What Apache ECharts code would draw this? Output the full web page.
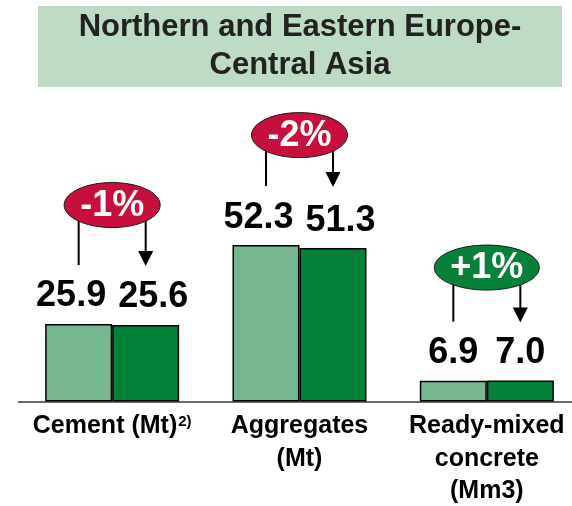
<!DOCTYPE html>
<html>
<head>
<meta charset="utf-8">
<script src="https://cdn.jsdelivr.net/npm/echarts@6/dist/echarts.min.js"></script>
<style>
  html, body { margin: 0; padding: 0; background: #ffffff; }
  #chart { width: 572px; height: 506px; }
</style>
</head>
<body>
<div id="chart"></div>
<script>
// Volumes by business line, prior year vs current year
const categories = ['Cement (Mt)', 'Aggregates\n(Mt)', 'Ready-mixed\nconcrete\n(Mm3)'];
const footnotes = ['2)', '', ''];
const priorValues = [25.9, 52.3, 6.9];
const currentValues = [25.6, 51.3, 7.0];
const changeLabels = ['-1%', '-2%', '+1%'];
const chartTitle = 'Northern and Eastern Europe-\nCentral Asia';

// Styling / layout
const FONT = '"Liberation Sans", Arial, Helvetica, sans-serif';
const BAR_W = 67;
const PRIOR_COLOR = '#76b78f';
const CURRENT_COLOR = '#06813a';
const DOWN_COLOR = '#c70f3d';
const UP_COLOR = '#07813a';
const badgeLift = [119, 110, 113];   // ellipse centre above the taller bar
const connectorGap = 59;             // connector end above the taller bar

const measureCtx = document.createElement('canvas').getContext('2d');
function textWidth(str, font) {
  measureCtx.font = font;
  return measureCtx.measureText(str).width;
}

const valueFont = 'bold 36px ' + FONT;
function labelShift(v) {
  const w = textWidth(v.toFixed(1), valueFont);
  return Math.max(0, (w + 12 - BAR_W) / 2);
}

function barData(values, side) {
  return values.map(v => ({
    value: v,
    label: { offset: [side * labelShift(v), 0] }
  }));
}

const valueLabel = {
  show: true,
  position: 'top',
  distance: 9.5,
  color: '#000',
  fontFamily: FONT,
  fontWeight: 'bold',
  fontSize: 36,
  formatter: p => p.value.toFixed(1)
};

const chart = echarts.init(document.getElementById('chart'), null, { renderer: 'canvas' });

chart.setOption({
  animation: false,
  backgroundColor: '#ffffff',
  graphic: [
    {
      type: 'rect',
      shape: { x: 38, y: 6, width: 524, height: 81 },
      style: { fill: '#bedcc5' },
      z: 0
    },
    {
      type: 'text',
      x: 300,
      y: 46.5,
      style: {
        text: chartTitle,
        fill: '#222222',
        font: 'bold 31px ' + FONT,
        align: 'center',
        verticalAlign: 'middle',
        textAlign: 'center',
        textVerticalAlign: 'middle',
        lineHeight: 38.5
      },
      z: 1
    }
  ],
  // the plot area runs a little past the right edge of the canvas
  grid: { left: 18.5, width: 562, top: 102.5, height: 299, outerBoundsMode: 'none', containLabel: false },
  xAxis: {
    type: 'category',
    data: categories,
    axisTick: { show: false },
    axisLine: { lineStyle: { color: '#3a3a3a', width: 1.5 } },
    axisLabel: {
      interval: 0,
      margin: 8.5,
      color: '#000',
      fontFamily: FONT,
      fontWeight: 'bold',
      fontSize: 25,
      lineHeight: 32.5,
      formatter: (value, idx) => footnotes[idx] ? value + '{sup|' + footnotes[idx] + '}' : value,
      rich: {
        sup: { fontFamily: FONT, fontWeight: 'bold', fontSize: 15, color: '#000', padding: [0, 0, 9, 1] }
      }
    }
  },
  yAxis: { type: 'value', min: 0, max: 100, show: false },
  series: [
    {
      name: 'Prior year',
      type: 'bar',
      barWidth: BAR_W,
      barGap: '0%',
      data: barData(priorValues, -1),
      itemStyle: { color: PRIOR_COLOR, borderColor: '#000', borderWidth: 1.5 },
      label: valueLabel
    },
    {
      name: 'Current year',
      type: 'bar',
      barWidth: BAR_W,
      barGap: '0%',
      data: barData(currentValues, 1),
      itemStyle: { color: CURRENT_COLOR, borderColor: '#000', borderWidth: 1.5 },
      label: valueLabel
    },
    {
      name: 'Change',
      type: 'custom',
      silent: true,
      z: 5,
      encode: { x: 0, y: 1 },
      data: categories.map((c, i) => [i, Math.max(priorValues[i], currentValues[i]), i]),
      renderItem: (params, api) => {
        const i = api.value(2);
        const top = api.coord([api.value(0), api.value(1)]);
        const cx = top[0];
        const yTop = top[1];
        const xl = cx - BAR_W / 2;
        const xr = cx + BAR_W / 2;
        const cy = yTop - badgeLift[i];
        const endY = yTop - connectorGap;
        const tipY = endY + 1;
        const txt = changeLabels[i];
        const rx = textWidth(txt, 'bold 36px ' + FONT) / 2 + 16;
        const fill = txt.charAt(0) === '-' ? DOWN_COLOR : UP_COLOR;
        const line = { stroke: '#000', lineWidth: 2 };
        return {
          type: 'group',
          children: [
            { type: 'line', shape: { x1: xl, y1: cy, x2: xl, y2: endY }, style: line },
            { type: 'line', shape: { x1: xr, y1: cy, x2: xr, y2: tipY - 12 }, style: line },
            {
              type: 'polygon',
              shape: { points: [[xr - 7.5, tipY - 15], [xr + 7.5, tipY - 15], [xr, tipY]] },
              style: { fill: '#000' }
            },
            {
              type: 'ellipse',
              shape: { cx: cx, cy: cy, rx: rx, ry: 22.5 },
              style: { fill: fill, stroke: '#1a1a1a', lineWidth: 1 }
            },
            {
              type: 'text',
              x: cx,
              y: cy + 1,
              style: {
                text: txt,
                fill: '#ffffff',
                font: 'bold 36px ' + FONT,
                align: 'center',
                verticalAlign: 'middle'
              }
            }
          ]
        };
      }
    }
  ]
});
</script>
</body>
</html>
